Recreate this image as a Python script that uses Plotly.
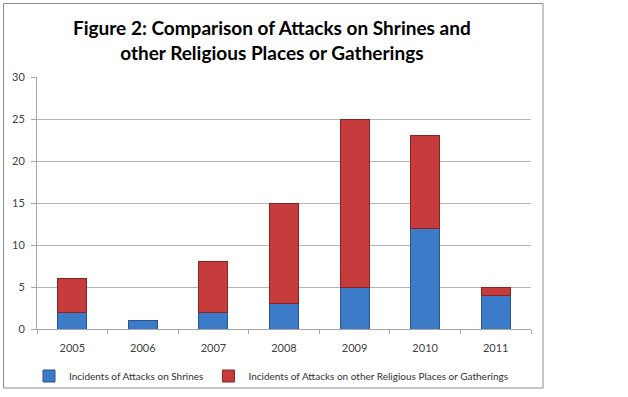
import plotly.graph_objects as go

years = ["2005", "2006", "2007", "2008", "2009", "2010", "2011"]
shrines = [2, 1, 2, 3, 5, 12, 4]
other = [4, 0, 6, 12, 20, 11, 1]
y_ticks = [0, 5, 10, 15, 20, 25, 30]

L, R, T, B = 37, 97, 77, 68
W, H = 628, 397
pw, ph = W - L - R, H - T - B

def px2x(p):
    return (p - L) / pw

def px2y(p):
    return (H - B - p) / ph

fig = go.Figure()
fig.add_trace(go.Bar(
    x=years, y=shrines, name="Incidents of Attacks on Shrines",
    marker=dict(color="#3b7bc8", line=dict(color="#27558f", width=1)),
))
fig.add_trace(go.Bar(
    x=years, y=other, name="Incidents of Attacks on other Religious Places or Gatherings",
    marker=dict(color="#c63b3b",
                line=dict(color="#8a2424", width=[0 if v == 0 else 1 for v in other])),
))

fig.update_layout(
    barmode="stack",
    bargap=0.59,
    width=W, height=H,
    margin=dict(l=L, r=R, t=T, b=B, autoexpand=False),
    paper_bgcolor="white",
    plot_bgcolor="white",
    font=dict(family="Lato", size=11, color="#404040"),
    showlegend=True,
    legend=dict(
        orientation="h",
        x=px2x(29), xanchor="left", y=px2y(376), yanchor="middle",
        traceorder="normal",
        font=dict(family="Lato", size=10, color="#303030"),
        itemwidth=30, tracegroupgap=0, bgcolor="rgba(0,0,0,0)",
    ),
    xaxis=dict(
        showline=True, linecolor="#a6a6a6", ticks="outside", tickson="boundaries",
        tickcolor="#a6a6a6", ticklen=4, showgrid=False, ticklabelstandoff=9,
        tickfont=dict(size=11, color="#404040"),
    ),
    yaxis=dict(
        range=[0, 30], tickvals=y_ticks, showline=True, linecolor="#a6a6a6",
        ticks="outside", tickcolor="#a6a6a6", ticklen=5, ticklabelstandoff=4,
        gridcolor="#b5b5b5", gridwidth=1, zeroline=False,
        tickfont=dict(size=11, color="#404040"),
    ),
    shapes=[dict(
        type="rect", xref="paper", yref="paper",
        x0=px2x(3.5), x1=px2x(543), y0=px2y(388), y1=px2y(3.5),
        line=dict(color="#8c8c8c", width=1), layer="below",
    )],
    annotations=[dict(
        text="<b>Figure 2: Comparison of Attacks on Shrines and<br>other Religious Places or Gatherings</b>",
        xref="paper", yref="paper", x=px2x(272), y=px2y(40),
        xanchor="center", yanchor="middle", showarrow=False,
        font=dict(family="Lato", size=19, color="#000000"),
    )],
)

fig.write_html("out.html", config={"displayModeBar": False},
               post_script="document.body.style.margin='0px';")
